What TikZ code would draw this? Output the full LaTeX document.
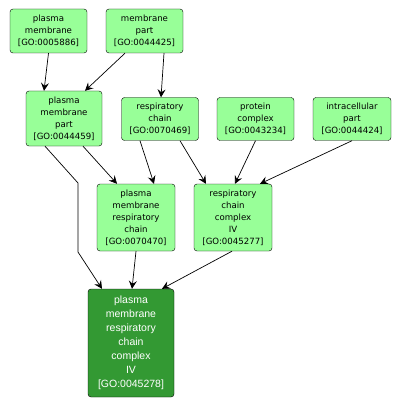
\documentclass[tikz,border=0pt]{standalone}
\usepackage{fontspec}
\usepackage{xcolor}
\usepackage{tikz}
\usetikzlibrary{arrows.meta,positioning,calc}
\newfontfamily\gofont{DejaVu Sans}
\newfontfamily\gofontb{Liberation Sans}
\definecolor{termgreen}{RGB}{152,255,152}
\definecolor{querygreen}{RGB}{51,153,51}
\tikzset{
  term/.style={rectangle,draw=black,fill=termgreen,align=center,inner sep=0pt,
    minimum width=77pt,minimum height=#1,rounded corners=3pt,
    font=\gofont\fontsize{8.6}{12}\selectfont},
  term/.default=44pt,
  query/.style={rectangle,draw=black,fill=querygreen,text=white,align=center,inner sep=0pt,
    minimum width=86pt,minimum height=108pt,rounded corners=3pt,
    font=\gofontb\fontsize{10.5}{14}\selectfont},
  arr/.style={-{Stealth[length=8pt,width=8pt,inset=3pt]},line width=0.7pt,color=black}
}
\begin{document}
\begin{tikzpicture}[x=1pt,y=-1pt]
    \useasboundingbox (0,0) rectangle (401,406);
    \node[term] (pm) at (48.5,31) {plasma\\ membrane\\ {[}GO:0005886{]}};
    \node[term] (mp) at (144.5,31) {membrane\\ part\\ {[}GO:0044425{]}};
    \node[term=55pt,minimum width=76pt] (pmp) at (64,118.5) {plasma\\ membrane\\ part\\ {[}GO:0044459{]}};
    \node[term=43pt] (rc) at (160,119) {respiratory\\ chain\\ {[}GO:0070469{]}};
    \node[term=43pt] (pc) at (255.5,119) {protein\\ complex\\ {[}GO:0043234{]}};
    \node[term=43pt,minimum width=78pt] (icp) at (352,119) {intracellular\\ part\\ {[}GO:0044424{]}};
    \node[term=67pt,minimum width=78pt] (pmrc) at (136,217.5) {plasma\\ membrane\\ respiratory\\ chain\\ {[}GO:0070470{]}};
    \node[term=67pt,minimum width=78pt] (rcc) at (233,217.5) {respiratory\\ chain\\ complex\\ IV\\ {[}GO:0045277{]}};
    \node[query] (pmrcc) at (131,343) {plasma\\ membrane\\ respiratory\\ chain\\ complex\\ IV\\ {[}GO:0045278{]}};
    \coordinate (bendA) at (78,183);
    \coordinate (bendB) at (78,252);

    \draw[arr] (pm.south) -- ([xshift=-20pt]pmp.north);
    \draw[arr] ([xshift=-19.5pt]mp.south) -- ([xshift=21pt]pmp.north);
    \draw[arr] ([xshift=19.5pt]mp.south) -- ([xshift=1pt]rc.north);
    \draw[arr] ([xshift=19pt]pmp.south) -- ([xshift=-19pt]pmrc.north);
    \draw[arr] ([xshift=-19pt]pmp.south) -- (bendA) -- (bendB) -- ([xshift=-29pt]pmrcc.north);
    \draw[arr] ([xshift=-20pt]rc.south) -- ([xshift=18pt]pmrc.north);
    \draw[arr] ([xshift=20pt]rc.south) -- ([xshift=-27pt]rcc.north);
    \draw[arr] (pc.south) -- ([xshift=2pt]rcc.north);
    \draw[arr] (icp.south) -- ([xshift=27pt]rcc.north);
    \draw[arr] (pmrc.south) -- ([xshift=1pt]pmrcc.north);
    \draw[arr] ([xshift=-1pt]rcc.south) -- ([xshift=31pt]pmrcc.north);
\end{tikzpicture}
\end{document}
